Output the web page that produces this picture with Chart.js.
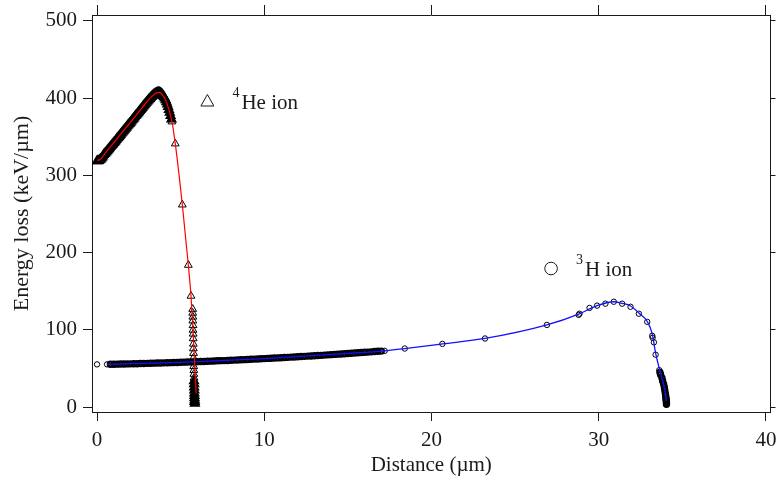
<!DOCTYPE html>
<html>
<head>
<meta charset="utf-8">
<script src="https://cdn.jsdelivr.net/npm/chart.js@4/dist/chart.umd.min.js"></script>
<style>
  html, body { margin: 0; padding: 0; background: #fff; }
  #wrap { width: 776px; height: 482px; }
</style>
</head>
<body>
<div id="wrap"><canvas id="c" width="776" height="482"></canvas></div>
<script>
// ---- 4He ion: simulated energy loss points, distance (µm) vs keV/µm ----
const heIonX = [0, 0.05, 0.1, 0.15, 0.2, 0.25, 0.3, 0.35, 0.4, 0.45, 0.5, 0.55, 0.6, 0.65, 0.7, 0.75, 0.8, 0.85, 0.9, 0.95,
  1.0, 1.05, 1.1, 1.15, 1.2, 1.25, 1.3, 1.35, 1.4, 1.45, 1.5, 1.55, 1.6, 1.65, 1.7, 1.75, 1.8, 1.85, 1.9, 1.95,
  2.0, 2.05, 2.1, 2.15, 2.2, 2.25, 2.3, 2.35, 2.4, 2.45, 2.5, 2.55, 2.6, 2.65, 2.7, 2.75, 2.8, 2.85, 2.9, 2.95,
  3.0, 3.05, 3.1, 3.15, 3.2, 3.25, 3.3, 3.35, 3.4, 3.45, 3.5, 3.55, 3.6, 3.65, 3.7, 3.75, 3.8, 3.85, 3.9, 3.95,
  4.0, 4.05, 4.1, 4.15, 4.2, 4.25, 4.3, 4.35, 4.4, 4.45, 4.48,
  4.68, 5.1, 5.46, 5.62,
  5.72, 5.72, 5.73, 5.73, 5.74, 5.74, 5.75, 5.75, 5.76, 5.76, 5.77, 5.77, 5.78, 5.78, 5.79, 5.79,
  5.8, 5.8, 5.81, 5.81, 5.82, 5.82, 5.83, 5.83, 5.84, 5.84, 5.85];
const heIonY = [318.5, 318.7, 319, 319.7, 320.5, 321.7, 323, 324.8, 326.5, 327.8, 329, 330.2, 331.5, 332.7, 334, 335.5, 337, 338.2, 339.5, 340.7,
  342, 343.2, 344.5, 346, 347.5, 348.7, 350, 351.2, 352.5, 354, 355.5, 356.7, 358, 359.2, 360.5, 362, 363.5, 364.7, 366, 367.2,
  368.5, 370, 371.5, 372.7, 374, 375.5, 377, 378.2, 379.5, 380.7, 382, 383.5, 385, 386.2, 387.5, 389, 390.5, 391.7, 393, 394.2,
  395.5, 396.7, 398, 399.2, 400.5, 401.5, 402.5, 403.5, 404.5, 405.3, 406, 406.5, 407, 407.3, 407.5, 407.1, 406.5, 405.6, 404.5, 403.1,
  401.5, 399.6, 397.5, 395, 392, 388.6, 385, 381.2, 377, 372.5, 369.5,
  341, 262, 184, 144,
  127, 122, 117, 112, 106, 100, 95, 89, 82, 76, 70, 64, 58, 53, 48, 43,
  38, 34, 30, 26, 22, 18, 15, 12, 9, 7, 5];

// ---- 4He ion: fitted curve ----
const heCurveX = [0, 0.2, 0.5, 1.0, 1.5, 2.0, 2.5, 3.0, 3.3, 3.6, 3.75, 3.9, 4.1, 4.3, 4.48, 4.68, 5.1, 5.46, 5.62, 5.74, 5.84, 5.93];
const heCurveY = [319.5, 320.5, 329, 342, 355.5, 368.5, 382, 395.5, 402.5, 407, 407.3, 404.5, 397.5, 385, 369.5, 341, 262, 184, 144, 100, 55, 18];

// ---- 3H ion: simulated energy loss points ----
const hIonX = [0,
  0.6, 0.8, 1.0, 1.2, 1.4, 1.6, 1.8, 2.0, 2.2, 2.4, 2.6, 2.8, 3.0, 3.2, 3.4, 3.6, 3.8, 4.0, 4.2, 4.4,
  4.6, 4.8, 5.0, 5.2, 5.4, 5.6, 5.8, 6.0, 6.2, 6.4, 6.6, 6.8, 7.0, 7.2, 7.4, 7.6, 7.8, 8.0, 8.2, 8.4,
  8.6, 8.8, 9.0, 9.2, 9.4, 9.6, 9.8, 10.0, 10.2, 10.4, 10.6, 10.8, 11.0, 11.2, 11.4, 11.6, 11.8, 12.0, 12.2, 12.4,
  12.6, 12.8, 13.0, 13.2, 13.4, 13.6, 13.8, 14.0, 14.2, 14.4, 14.6, 14.8, 15.0, 15.2, 15.4, 15.6, 15.8, 16.0, 16.2, 16.4,
  16.6, 16.8, 17.0, 17.2,
  18.4, 20.65, 23.2, 26.9, 28.8, 28.85, 29.45, 29.9, 30.4, 30.9, 31.4, 31.9, 32.4, 32.9, 33.2, 33.22, 33.3, 33.4,
  33.62, 33.66, 33.7, 33.78, 33.82, 33.88, 33.92, 33.95, 33.98, 34.0, 34.02, 34.03, 34.04, 34.05, 34.05];
const hIonY = [55.5,
  55.5, 55.6, 55.7, 55.8, 55.9, 56.0, 56.1, 56.2, 56.3, 56.4, 56.6, 56.7, 56.8, 56.9, 57.1, 57.2, 57.3, 57.5, 57.6, 57.7,
  57.9, 58.0, 58.2, 58.4, 58.5, 58.7, 58.8, 59.0, 59.2, 59.3, 59.5, 59.7, 59.9, 60.1, 60.3, 60.4, 60.6, 60.8, 61.0, 61.2,
  61.4, 61.6, 61.9, 62.1, 62.3, 62.5, 62.7, 63.0, 63.2, 63.4, 63.7, 63.9, 64.1, 64.4, 64.6, 64.9, 65.1, 65.4, 65.6, 65.9,
  66.2, 66.4, 66.7, 67.0, 67.2, 67.5, 67.8, 68.1, 68.4, 68.7, 69.0, 69.3, 69.6, 69.9, 70.2, 70.5, 70.8, 71.1, 71.4, 71.7,
  72.1, 72.4, 72.7, 73.0,
  76, 82, 89, 106.5, 119.5, 121, 128.5, 131.5, 134, 136.5, 134, 130, 121, 110.5, 92.5, 90, 84, 68,
  48, 45, 42, 38, 34, 30, 26, 22, 18, 15, 12, 10, 8, 6, 4];

// ---- 3H ion: fitted curve ----
const hCurveX = [0.6, 5.0, 10.0, 15.0, 17.2, 18.4, 20.65, 23.2, 26.9, 28.8, 29.9, 30.9, 31.4, 31.9, 32.4, 32.9, 33.2, 33.4, 33.66, 33.85, 34.0, 34.04];
const hCurveY = [55.5, 58.2, 63.0, 69.6, 73.0, 76, 82, 89, 106.5, 120.5, 131.5, 136.5, 134.5, 131, 122, 111, 95, 70, 47, 32, 16, 8];

// ---- axes ----
const xTickValues = [0, 10, 20, 30, 40];
const yTickValues = [0, 100, 200, 300, 400, 500];
const X_MIN = -0.3, X_MAX = 40.27;
const Y_MIN = -6.1, Y_MAX = 507.4;

// ---- in-plot labels: [x, y] anchor in data units, mass number, name ----
const ionLabels = [
  { at: [6.6, 395.5], symbol: 'triangle', mass: '4', name: 'He ion' },
  { at: [27.15, 179.5], symbol: 'circle', mass: '3', name: 'H ion' }
];

const SERIF = "'Liberation Serif', 'Times New Roman', serif";
const tickFont = { family: SERIF, size: 21 };
const INK = '#1a1a1a';

const toPoints = (xs, ys) => xs.map((x, i) => ({ x, y: ys[i] }));
const fixedTicks = values => scale => { scale.ticks = values.map(v => ({ value: v })); };

// a marker is "crowded" when both neighbours in the run sit within a few pixels of it
function crowded(ctx) {
  const data = ctx.dataset.data;
  const i = ctx.dataIndex;
  const sx = ctx.chart.scales.x, sy = ctx.chart.scales.y;
  if (!sx || !sy || !data[i]) return false;
  const px = p => [sx.getPixelForValue(p.x), sy.getPixelForValue(p.y)];
  const [x0, y0] = px(data[i]);
  let far = 0;
  [i - 1, i + 1].forEach(j => {
    if (j < 0 || j >= data.length) return;
    const [x1, y1] = px(data[j]);
    far = Math.max(far, Math.hypot(x1 - x0, y1 - y0));
  });
  return far < 3.6;
}
const outlineWidth = ctx => (crowded(ctx) ? 2 : 1);
const markerFill = ctx => (crowded(ctx) ? '#000' : 'rgba(255,255,255,0)');

function frameAxis(position, min, max, tickValues, tickLength, size, withLabels, title) {
  const horizontal = position === 'top' || position === 'bottom';
  return {
    type: 'linear',
    position,
    min, max,
    afterBuildTicks: fixedTicks(tickValues),
    afterFit: s => {
      if (horizontal) s.height = size; else s.width = size;
      s.paddingLeft = s.paddingRight = s.paddingTop = s.paddingBottom = 0;
    },
    grid: { drawOnChartArea: false, drawTicks: true, tickLength, color: INK, lineWidth: 1 },
    border: { display: true, color: INK, width: 1 },
    ticks: { display: withLabels, font: tickFont, color: INK, padding: horizontal ? 7 : 6, maxRotation: 0, autoSkip: false },
    title: title ? Object.assign({ display: true, color: INK }, title) : { display: false }
  };
}

const ionLabelPlugin = {
  id: 'ionLabels',
  afterDatasetsDraw(chart) {
    const { ctx, scales } = chart;
    ctx.save();
    ctx.strokeStyle = INK;
    ctx.fillStyle = INK;
    ctx.lineWidth = 1;
    ionLabels.forEach(lab => {
      const cx = scales.x.getPixelForValue(lab.at[0]);
      const cy = scales.y.getPixelForValue(lab.at[1]);
      ctx.beginPath();
      if (lab.symbol === 'triangle') {
        ctx.moveTo(cx, cy - 7);
        ctx.lineTo(cx + 6.5, cy + 4.5);
        ctx.lineTo(cx - 6.5, cy + 4.5);
        ctx.closePath();
      } else {
        ctx.arc(cx, cy, 6.3, 0, Math.PI * 2);
      }
      ctx.stroke();
      ctx.textBaseline = 'alphabetic';
      ctx.textAlign = 'left';
      ctx.font = `14px ${SERIF}`;
      ctx.fillText(lab.mass, cx + 25, cy - 5);
      ctx.font = `21px ${SERIF}`;
      ctx.fillText(lab.name, cx + 34, cy + 7);
    });
    ctx.restore();
  }
};

new Chart(document.getElementById('c'), {
  type: 'scatter',
  data: {
    datasets: [
      {
        label: '3H ion',
        data: toPoints(hIonX, hIonY),
        pointStyle: 'circle',
        pointRadius: 2.7,
        pointBorderWidth: outlineWidth,
        pointBorderColor: '#000',
        pointBackgroundColor: 'rgba(255,255,255,0)',
        order: 4
      },
      {
        label: '4He ion',
        data: toPoints(heIonX, heIonY),
        pointStyle: 'triangle',
        pointRadius: 4.5,
        pointBorderWidth: outlineWidth,
        pointBorderColor: '#000',
        pointBackgroundColor: markerFill,
        order: 3
      },
      {
        label: '3H fit',
        data: toPoints(hCurveX, hCurveY),
        showLine: true,
        borderColor: '#1010ff',
        borderWidth: 1.3,
        pointRadius: 0,
        cubicInterpolationMode: 'monotone',
        order: 2
      },
      {
        label: '4He fit',
        data: toPoints(heCurveX, heCurveY),
        showLine: true,
        borderColor: '#ff0000',
        borderWidth: 1.2,
        pointRadius: 0,
        cubicInterpolationMode: 'monotone',
        order: 1
      }
    ]
  },
  options: {
    responsive: false,
    animation: false,
    events: [],
    layout: { padding: 0 },
    plugins: { legend: { display: false }, tooltip: { enabled: false } },
    scales: {
      x: frameAxis('bottom', X_MIN, X_MAX, xTickValues, 9, 70, true,
        { text: 'Distance (µm)', font: { family: SERIF, size: 21 }, padding: { top: 0, bottom: 4 } }),
      x2: frameAxis('top', X_MIN, X_MAX, xTickValues, 10, 15, false),
      y: frameAxis('left', Y_MIN, Y_MAX, yTickValues, 9, 92, true,
        { text: 'Energy loss (keV/µm)', font: { family: SERIF, size: 22 }, padding: { top: 9, bottom: 0 } }),
      y2: frameAxis('right', Y_MIN, Y_MAX, yTickValues, 5, 5, false)
    }
  },
  plugins: [ionLabelPlugin]
});
</script>
</body>
</html>
